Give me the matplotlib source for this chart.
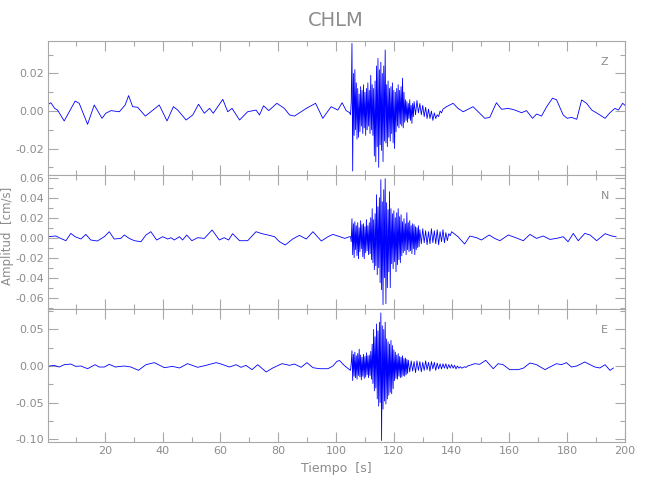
import numpy as np
import matplotlib
matplotlib.use("Agg")
import matplotlib.pyplot as plt
from matplotlib.ticker import MultipleLocator, FormatStrFormatter

plt.rcParams['font.family'] = 'DejaVu Sans'
plt.rcParams['axes.unicode_minus'] = False

# Station and components
station = "CHLM"
components = ["Z", "N", "E"]

# Start of the strong-motion part and sample steps (s)
burst_start = 105.0
burst_dt = 0.25
coda_dt = 0.5

# Z component (cm/s)
z_pre_t = [0.1, 1.3, 2.6, 3.6, 5.9, 9.7, 11.1, 14.0, 16.3, 19.0, 20.3, 22.1, 25.0, 27.0, 28.2,
           29.6, 31.3, 34.0, 35.9, 38.8, 41.5, 43.7, 45.2, 48.1, 50.4, 52.4, 54.4, 56.2, 57.5,
           60.8, 62.5, 64.0, 66.6, 69.4, 72.3, 73.5, 74.9, 76.7, 79.5, 82.1, 83.9, 85.6, 89.7,
           92.9, 95.4, 98.3, 100.6, 102.1, 103.5, 104.7]
z_pre_v = [0.0032, 0.0044, 0.0014, 0.0005, -0.0053, 0.0053, 0.0041, -0.0071, 0.0032, -0.0039,
           -0.0012, 0.0002, -0.0004, 0.0032, 0.0082, 0.0023, 0.0020, -0.0027, -0.0004, 0.0032,
           -0.0053, 0.0023, 0.0005, -0.0048, -0.0021, 0.0036, -0.0012, 0.0014, -0.0012, 0.0062,
           -0.0004, 0.0014, -0.0048, -0.0004, 0.0005, -0.0021, 0.0028, 0.0002, 0.0041, 0.0014,
           -0.0021, -0.0027, 0.0014, 0.0041, -0.0039, 0.0023, 0.0005, 0.0044, 0.0002, -0.0009]
z_burst = [-0.002, 0.005, 0.036, -0.032, 0.020, -0.013, 0.022, -0.010, 0.015, -0.015,
           0.012, -0.014, 0.009, -0.011, 0.013, -0.008, 0.011, -0.012, 0.014, -0.009,
           0.010, -0.013, 0.012, -0.010, 0.015, -0.008, 0.011, -0.012, 0.019, -0.010,
           0.014, -0.013, 0.012, -0.024, 0.016, -0.027, 0.024, -0.019, 0.028, -0.030,
           0.022, -0.018, 0.026, -0.021, 0.020, -0.027, 0.024, -0.016, 0.0325, -0.017,
           0.014, -0.019, 0.016, -0.014, 0.012, -0.016, 0.013, -0.012, 0.015, -0.017,
           0.011, -0.020, 0.010, -0.011, 0.012, -0.008, 0.014, -0.009, 0.011, -0.007,
           0.013, -0.008, 0.0175, -0.009, 0.010, -0.006, 0.006, -0.005, 0.005, -0.006,
           0.004, -0.004, 0.006, -0.005, 0.003, -0.0066, 0.004, -0.003]
z_coda = [0.005, -0.002, 0.0056, -0.001, 0.004, -0.002, 0.003, -0.003, 0.002, -0.004, 0.001,
          -0.004, 0.000, -0.005, -0.001, -0.004, -0.002, -0.003, 0.000, -0.001, 0.001]
z_post_t = [138.2, 140.5, 142.2, 144.0, 147.4, 149.2, 151.5, 153.2, 155.5, 157.3, 159.6, 161.9,
            164.2, 165.9, 168.0, 169.4, 171.1, 172.9, 174.9, 176.3, 178.6, 180.0, 181.5, 183.3,
            185.0, 186.7, 188.5, 191.3, 193.1, 194.8, 196.5, 197.7, 199.2, 200.0]
z_post_v = [0.0023, 0.0041, 0.0014, -0.0004, 0.0023, -0.0004, -0.0039, -0.0034, 0.0044, 0.0009,
            0.0014, 0.0005, -0.0009, 0.0002, -0.0039, -0.0016, -0.0027, 0.0023, 0.0068, 0.0060,
            -0.0021, -0.0039, -0.0034, -0.0044, 0.0059, 0.0041, 0.0005, -0.0021, -0.0039, -0.0009,
            0.0014, 0.0005, 0.0041, 0.0030]

# N component
n_pre_t = [0.1, 3.0, 4.7, 6.5, 8.2, 9.7, 11.7, 13.4, 15.1, 17.4, 19.8, 21.5, 23.2, 25.5, 26.7,
           28.4, 30.2, 32.5, 34.2, 35.9, 37.9, 40.0, 41.7, 42.9, 44.0, 45.8, 46.9, 48.3, 50.1,
           52.1, 54.4, 57.1, 59.6, 61.3, 62.8, 64.2, 66.6, 69.4, 72.3, 74.4, 77.0, 78.7, 80.4,
           82.4, 85.0, 87.3, 89.7, 92.0, 94.9, 97.2, 98.9, 100.6, 103.0, 104.7]
n_pre_v = [0.0010, 0.0017, -0.0007, -0.0030, 0.0043, 0.0010, -0.0013, 0.0033, -0.0023, -0.0033,
           0.0010, 0.0060, -0.0013, -0.0007, 0.0027, -0.0007, -0.0030, -0.0040, 0.0027, 0.0060,
           -0.0023, 0.0010, -0.0013, 0.0000, -0.0023, 0.0010, -0.0023, 0.0027, -0.0030, 0.0000,
           -0.0007, 0.0077, -0.0023, 0.0000, -0.0023, 0.0040, -0.0030, -0.0030, 0.0060, 0.0040,
           0.0023, 0.0010, -0.0040, -0.0073, -0.0013, 0.0023, -0.0013, 0.0060, -0.0033, 0.0010,
           0.0033, 0.0017, -0.0007, 0.0010]
n_burst = [0.001, -0.004, 0.019, -0.017, 0.014, -0.020, 0.016, -0.012, 0.012, -0.018,
           0.015, -0.021, 0.010, -0.014, 0.017, -0.011, 0.013, -0.019, 0.014, -0.021,
           0.011, -0.015, 0.018, -0.013, 0.012, -0.017, 0.015, -0.016, 0.020, -0.022,
           0.029, -0.025, 0.018, -0.032, 0.024, -0.028, 0.043, -0.037, 0.031, -0.030,
           0.040, -0.045, 0.058, -0.052, 0.036, -0.067, 0.048, -0.040, 0.059, -0.066,
           0.035, -0.050, 0.028, -0.034, 0.046, -0.050, 0.029, -0.026, 0.024, -0.031,
           0.027, -0.024, 0.020, -0.034, 0.025, -0.027, 0.029, -0.022, 0.021, -0.025,
           0.023, -0.018, 0.016, -0.015, 0.019, -0.013, 0.014, -0.017, 0.025, -0.012,
           0.015, -0.014, 0.017, -0.013, 0.012, -0.016, 0.014, -0.011, 0.013, -0.017,
           0.011, -0.012, 0.010, -0.010, 0.012, -0.009]
n_coda = [0.008, -0.006, 0.009, -0.005, 0.007, -0.007, 0.006, -0.006, 0.009, -0.005, 0.007,
          -0.006, 0.008, -0.007, 0.006, -0.004, 0.008, -0.005, 0.005, -0.003, 0.004, 0.002]
n_post_t = [140.0, 142.2, 144.5, 146.3, 148.6, 150.3, 153.0, 154.9, 156.7, 159.6, 161.9, 164.8,
            167.1, 169.4, 171.7, 174.0, 176.3, 178.6, 180.3, 182.1, 183.8, 186.1, 187.9, 190.2,
            193.1, 195.4, 196.9]
n_post_v = [0.0060, 0.0010, -0.0063, 0.0017, 0.0000, -0.0023, 0.0027, -0.0007, -0.0030, 0.0027,
            0.0003, -0.0030, 0.0033, -0.0007, 0.0017, -0.0017, -0.0007, 0.0010, -0.0040, 0.0043,
            -0.0030, 0.0043, 0.0027, -0.0030, 0.0040, 0.0017, 0.0010]

# E component
e_pre_t = [0.1, 2.4, 4.2, 5.9, 8.2, 9.9, 11.7, 14.0, 16.6, 18.0, 19.8, 21.5, 23.6, 26.7, 29.0,
           31.6, 34.2, 37.1, 40.6, 43.4, 45.8, 48.6, 52.1, 55.0, 58.5, 60.2, 63.1, 65.4, 67.1,
           68.8, 70.9, 72.9, 75.8, 78.1, 81.3, 83.9, 85.6, 87.9, 89.9, 92.0, 94.3, 97.2, 98.9,
           100.3, 101.2, 102.9, 104.7]
e_pre_v = [-0.0005, 0.0009, -0.0014, 0.0018, 0.0027, -0.0005, 0.0000, -0.0037, 0.0018, -0.0014,
           -0.0014, 0.0023, -0.0014, 0.0000, -0.0014, -0.0059, 0.0018, 0.0046, -0.0023, -0.0005,
           -0.0027, 0.0032, -0.0018, 0.0009, 0.0046, 0.0027, -0.0014, 0.0018, -0.0018, 0.0009,
           -0.0050, 0.0018, -0.0082, -0.0027, 0.0032, 0.0009, 0.0027, -0.0018, 0.0046, -0.0023,
           -0.0037, -0.0037, 0.0000, 0.0064, 0.0075, 0.0005, -0.0050]
e_burst = [-0.006, 0.004, 0.021, -0.020, 0.016, -0.014, 0.019, -0.016, 0.014, -0.018,
           0.017, -0.013, 0.023, -0.015, 0.015, -0.019, 0.012, -0.014, 0.016, -0.017,
           0.013, -0.015, 0.018, -0.012, 0.014, -0.016, 0.015, -0.013, 0.020, -0.018,
           0.030, -0.024, 0.050, -0.034, 0.040, -0.030, 0.0575, -0.045, 0.048, -0.055,
           0.060, -0.050, 0.0726, -0.102, 0.055, -0.059, 0.050, -0.048, 0.060, -0.052,
           0.037, -0.045, 0.033, -0.040, 0.030, -0.036, 0.035, -0.038, 0.028, -0.031,
           0.022, -0.020, 0.019, -0.017, 0.015, -0.018, 0.017, -0.014, 0.013, -0.016,
           0.012, -0.015, 0.014, -0.013, 0.010, -0.014, 0.011, -0.012, 0.009, -0.010]
e_coda = [0.008, -0.008, 0.007, -0.007, 0.006, -0.009, 0.007, -0.006, 0.006, -0.008, 0.005,
          -0.006, 0.007, -0.005, 0.005, -0.007, 0.006, -0.004, 0.005, -0.006, 0.004, -0.004,
          0.003, -0.004, 0.003, -0.003, 0.003, -0.004, 0.002, -0.003, 0.002, -0.003, 0.001,
          -0.004, 0.000, -0.003, -0.001, -0.003, -0.002, -0.001, -0.002, 0.000]
e_post_t = [146.3, 148.0, 149.7, 151.8, 154.4, 156.1, 157.8, 160.1, 163.0, 164.8, 167.1, 169.4,
            172.3, 174.0, 176.3, 178.0, 179.7, 181.5, 183.3, 186.1, 187.9, 189.6, 191.3, 193.1,
            194.8, 196.0]
e_post_v = [0.0009, 0.0032, 0.0023, 0.0078, -0.0037, 0.0032, 0.0018, -0.0050, -0.0050, -0.0030,
            0.0041, 0.0018, -0.0050, -0.0014, 0.0032, 0.0018, 0.0046, -0.0014, 0.0000, 0.0055,
            0.0018, -0.0014, -0.0027, 0.0018, -0.0060, -0.0027]

# axis ranges and tick spacing per panel
ylims = [(-0.0341, 0.0373), (-0.0713, 0.0627), (-0.104, 0.078)]
major_steps = [0.02, 0.02, 0.05]
minor_steps = [0.01, 0.01, 0.025]


def build_trace(pre_t, pre_v, burst, coda, post_t, post_v):
    bt = burst_start + burst_dt * np.arange(len(burst))
    ct = burst_start + burst_dt * len(burst) + coda_dt * np.arange(len(coda))
    t = np.concatenate([pre_t, bt, ct, post_t])
    v = np.concatenate([pre_v, burst, coda, post_v])
    return t, v


traces = [
    build_trace(z_pre_t, z_pre_v, z_burst, z_coda, z_post_t, z_post_v),
    build_trace(n_pre_t, n_pre_v, n_burst, n_coda, n_post_t, n_post_v),
    build_trace(e_pre_t, e_pre_v, e_burst, e_coda, e_post_t, e_post_v),
]

grey = '#8c8c8c'
axcol = '#a8a8a8'

fig = plt.figure(figsize=(6.5, 5), dpi=100)
left, width = 48 / 650, 577 / 650
tops = [41, 175, 309]
bottoms = [175, 309, 442]

axes = []
for i in range(3):
    ax = fig.add_axes([left, 1 - bottoms[i] / 500, width, (bottoms[i] - tops[i]) / 500])
    t, v = traces[i]
    ax.plot(t, v, color='#0000ff', lw=0.6)
    ax.set_xlim(0.3, 200)
    ax.set_ylim(*ylims[i])
    ax.xaxis.set_major_locator(MultipleLocator(20))
    ax.xaxis.set_minor_locator(MultipleLocator(10))
    ax.yaxis.set_major_locator(MultipleLocator(major_steps[i]))
    ax.yaxis.set_minor_locator(MultipleLocator(minor_steps[i]))
    ax.yaxis.set_major_formatter(FormatStrFormatter('%.2f'))
    ax.tick_params(which='both', direction='in', top=True, right=True, colors=axcol,
                   labelcolor=grey, labelsize=8, width=0.8)
    ax.tick_params(which='major', length=7, pad=3)
    ax.tick_params(which='minor', length=3.5)
    for s in ax.spines.values():
        s.set_color(axcol)
        s.set_linewidth(0.8)
    if i < 2:
        ax.tick_params(labelbottom=False)
    ax.text(0.965, 1 - 21 / 134, components[i], transform=ax.transAxes, color=grey,
            fontsize=8, ha='center', va='center')
    axes.append(ax)

axes[2].set_xlabel("Tiempo  [s]", color=grey, fontsize=9, labelpad=4)
fig.text(336 / 650, 1 - 21 / 500, station, color=grey, fontsize=14, ha='center', va='center')
fig.text(8 / 650, 1 - 236 / 500, "Amplitud  [cm/s]", color=grey, fontsize=8.5,
         rotation=90, ha='center', va='center')

fig.savefig("out.png", dpi=100)
